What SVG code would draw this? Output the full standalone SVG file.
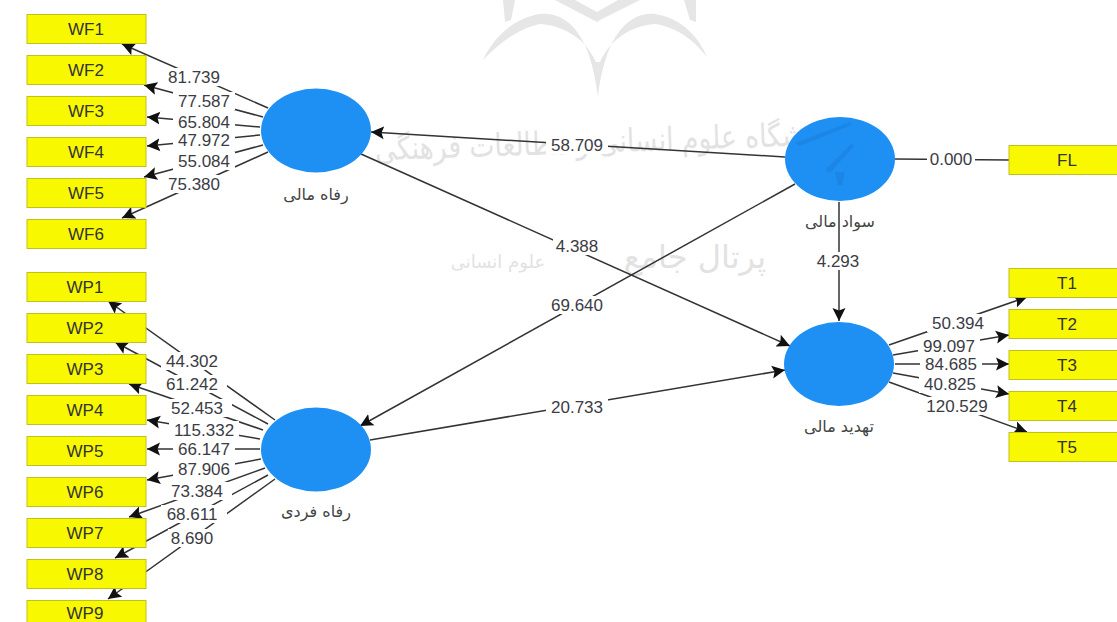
<svg xmlns="http://www.w3.org/2000/svg" width="1117" height="622" viewBox="0 0 1117 622">
<style>
.wm{fill:#e6e6e6}
.wt{fill:#e2e2e2;font-family:"DejaVu Sans",sans-serif;font-size:32px;text-anchor:middle}
.c{stroke:#333;stroke-width:1.5;fill:none}
.a{marker-end:url(#ah)}
.lb{fill:#fff}
.l{fill:#3c3c44;font-family:"Liberation Sans",sans-serif;font-size:17px;text-anchor:middle;dominant-baseline:central}
.b{fill:#f8f800;stroke:#c0c020;stroke-width:1}
.t{fill:#333;font-family:"Liberation Sans",sans-serif;font-size:17px;text-anchor:middle;dominant-baseline:central}
.e{fill:#1e90f4}
.f{fill:#444;font-family:"DejaVu Sans",sans-serif;font-size:16px;text-anchor:middle;letter-spacing:2px}
</style>
<defs>
<marker id="ah" markerUnits="userSpaceOnUse" markerWidth="15" markerHeight="14" refX="13" refY="7" orient="auto"><path d="M0,0.500L13,7L0,13.500L2.500,7Z" fill="#111"/></marker>
</defs>
<rect width="1117" height="622" fill="#fff"/>
<g id="watermark">
<path class="wm" d="M483,60C495,35 515,18 540,14C565,12 590,30 598,97C606,30 632,12 655,14C680,18 698,35 707,57C695,42 680,28 655,24C630,26 610,40 600,62L596,62C586,40 566,26 540,24C520,28 500,42 483,60Z"/>
<path class="wm" d="M503,0L515,0L511,20L505,22ZM684,0L696,0L696,22L690,20ZM555,0L575,0L597,12L618,0L640,0L600,20L597,22Z"/>
<text class="wt" x="615" y="152" textLength="480" lengthAdjust="spacingAndGlyphs" transform="rotate(-2 615 152)">پژوهشگاه علوم انسانی و مطالعات فرهنگی</text>
<text class="wt" style="font-size:18px" x="498" y="268">علوم انسانی</text>
<text class="wt" x="695" y="268">پرتال جامع</text>
</g>
<g id="connectors">
<path class="c a" d="M268,108L122,44"/>
<path class="c a" d="M263,117L144,85"/>
<path class="c a" d="M260,127L147,117"/>
<path class="c a" d="M260,135L147,146"/>
<path class="c a" d="M263,145L144,177"/>
<path class="c a" d="M268,152L122,218"/>
<path class="c a" d="M275,420L108,301"/>
<path class="c a" d="M268,424L115,342"/>
<path class="c a" d="M263,430L129,384"/>
<path class="c a" d="M260,439L147,420"/>
<path class="c a" d="M260,449L147,449"/>
<path class="c a" d="M261,459L147,480"/>
<path class="c a" d="M265,468L129,517"/>
<path class="c a" d="M268,475L115,558"/>
<path class="c a" d="M275,479L108,599"/>
<path class="c a" d="M889,345L1027,297"/>
<path class="c a" d="M893,355L1009,335"/>
<path class="c a" d="M895,364L1009,364"/>
<path class="c a" d="M893,373L1009,394"/>
<path class="c a" d="M889,382L1027,432"/>
<path class="c" d="M895,159L1009,160"/>
<path class="c a" d="M839,202L839,321"/>
<path class="c a" d="M785,157L371,132"/>
<path class="c a" d="M361,154L790,346"/>
<path class="c a" d="M795,184L360,426"/>
<path class="c a" d="M370,440L785,370"/>
<g id="label-backgrounds">
<rect class="lb" x="163" y="68" width="66" height="18"/><rect class="lb" x="173" y="92" width="62" height="18"/><rect class="lb" x="173" y="113" width="62" height="18"/><rect class="lb" x="173" y="131" width="62" height="18"/><rect class="lb" x="173" y="152" width="62" height="18"/><rect class="lb" x="163" y="175" width="66" height="18"/>
<rect class="lb" x="161" y="352" width="66" height="18"/><rect class="lb" x="161" y="375" width="66" height="18"/><rect class="lb" x="166" y="399" width="66" height="18"/><rect class="lb" x="169" y="421" width="70" height="18"/><rect class="lb" x="173" y="440" width="62" height="18"/><rect class="lb" x="173" y="460" width="62" height="18"/><rect class="lb" x="166" y="482" width="66" height="18"/><rect class="lb" x="161" y="505" width="66" height="18"/><rect class="lb" x="168" y="529" width="48" height="18"/>
<rect class="lb" x="927" y="314" width="62" height="18"/><rect class="lb" x="918" y="337" width="62" height="18"/><rect class="lb" x="920" y="355" width="62" height="18"/><rect class="lb" x="919" y="375" width="62" height="18"/><rect class="lb" x="922" y="397" width="70" height="18"/>
<rect class="lb" x="927" y="150" width="48" height="18"/><rect class="lb" x="814" y="252" width="48" height="18"/><rect class="lb" x="546" y="136" width="62" height="18"/><rect class="lb" x="553" y="237" width="48" height="18"/><rect class="lb" x="546" y="296" width="62" height="18"/><rect class="lb" x="546" y="398" width="62" height="18"/>
</g>
<g id="labels">
<text class="l" x="194" y="77">81.739</text><text class="l" x="204" y="101">77.587</text><text class="l" x="204" y="122">65.804</text><text class="l" x="204" y="140">47.972</text><text class="l" x="204" y="161">55.084</text><text class="l" x="194" y="184">75.380</text>
<text class="l" x="192" y="361">44.302</text><text class="l" x="192" y="384">61.242</text><text class="l" x="197" y="408">52.453</text><text class="l" x="204" y="430">115.332</text><text class="l" x="204" y="449">66.147</text><text class="l" x="204" y="469">87.906</text><text class="l" x="197" y="491">73.384</text><text class="l" x="192" y="514">68.611</text><text class="l" x="192" y="538">8.690</text>
<text class="l" x="958" y="323">50.394</text><text class="l" x="949" y="346">99.097</text><text class="l" x="951" y="364">84.685</text><text class="l" x="950" y="384">40.825</text><text class="l" x="957" y="406">120.529</text>
<text class="l" x="951" y="159">0.000</text><text class="l" x="838" y="261">4.293</text><text class="l" x="577" y="145">58.709</text><text class="l" x="577" y="246">4.388</text><text class="l" x="577" y="305">69.640</text><text class="l" x="577" y="407">20.733</text>
</g>
</g>
<g id="WF1"><rect class="b" x="27" y="14.500" width="119" height="29"/><text class="t" x="86" y="29">WF1</text></g>
<g id="WF2"><rect class="b" x="27" y="55.500" width="119" height="29"/><text class="t" x="86" y="70">WF2</text></g>
<g id="WF3"><rect class="b" x="27" y="96.500" width="119" height="29"/><text class="t" x="86" y="111">WF3</text></g>
<g id="WF4"><rect class="b" x="27" y="137.500" width="119" height="29"/><text class="t" x="86" y="152">WF4</text></g>
<g id="WF5"><rect class="b" x="27" y="178.500" width="119" height="29"/><text class="t" x="86" y="193">WF5</text></g>
<g id="WF6"><rect class="b" x="27" y="219.500" width="119" height="29"/><text class="t" x="86" y="234">WF6</text></g>
<g id="WP1"><rect class="b" x="27" y="272.500" width="119" height="29"/><text class="t" x="85" y="287">WP1</text></g>
<g id="WP2"><rect class="b" x="27" y="313.500" width="119" height="29"/><text class="t" x="85" y="328">WP2</text></g>
<g id="WP3"><rect class="b" x="27" y="354.500" width="119" height="29"/><text class="t" x="85" y="369">WP3</text></g>
<g id="WP4"><rect class="b" x="27" y="395.500" width="119" height="29"/><text class="t" x="85" y="410">WP4</text></g>
<g id="WP5"><rect class="b" x="27" y="436.500" width="119" height="29"/><text class="t" x="85" y="451">WP5</text></g>
<g id="WP6"><rect class="b" x="27" y="477.500" width="119" height="29"/><text class="t" x="85" y="492">WP6</text></g>
<g id="WP7"><rect class="b" x="27" y="518.500" width="119" height="29"/><text class="t" x="85" y="533">WP7</text></g>
<g id="WP8"><rect class="b" x="27" y="559.500" width="119" height="29"/><text class="t" x="85" y="574">WP8</text></g>
<g id="WP9"><rect class="b" x="27" y="600.500" width="119" height="29"/><text class="t" x="85" y="613">WP9</text></g>
<g id="FL"><rect class="b" x="1009" y="145.500" width="110" height="29"/><text class="t" x="1067" y="160">FL</text></g>
<g id="T1"><rect class="b" x="1009" y="268.500" width="110" height="29"/><text class="t" x="1067" y="283">T1</text></g>
<g id="T2"><rect class="b" x="1009" y="309.500" width="110" height="29"/><text class="t" x="1067" y="324">T2</text></g>
<g id="T3"><rect class="b" x="1009" y="350.500" width="110" height="29"/><text class="t" x="1067" y="365">T3</text></g>
<g id="T4"><rect class="b" x="1009" y="391.500" width="110" height="29"/><text class="t" x="1067" y="406">T4</text></g>
<g id="T5"><rect class="b" x="1009" y="432.500" width="110" height="29"/><text class="t" x="1067" y="447">T5</text></g>
<g id="financial-welfare"><ellipse class="e" cx="316" cy="130.500" rx="55" ry="42"/><text class="f" x="316" y="200">رفاه مالی</text></g>
<g id="individual-welfare"><ellipse class="e" cx="316" cy="449.500" rx="55" ry="42"/><text class="f" x="316" y="517">رفاه فردی</text></g>
<g id="financial-literacy"><ellipse class="e" cx="840" cy="159" rx="55" ry="42"/><path d="M795,143L850,122L852,125L800,146ZM825,170L852,143L854,146L830,173ZM835,172L845,172L842,185L838,185Z" fill="#1b86e6"/><text class="f" x="840" y="227">سواد مالی</text></g>
<g id="financial-threat"><ellipse class="e" cx="839" cy="364" rx="55" ry="42"/><text class="f" x="839" y="432">تهدید مالی</text></g>
</svg>
